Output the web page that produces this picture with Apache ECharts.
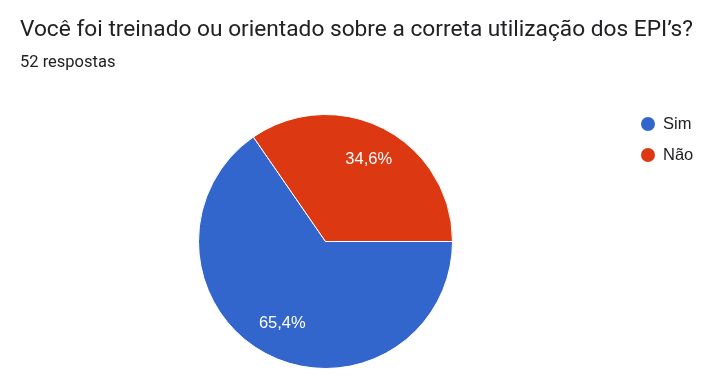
<!DOCTYPE html>
<html><head><meta charset="utf-8">
<script src="https://cdn.jsdelivr.net/npm/echarts@6/dist/echarts.min.js"></script>
<style>html,body{margin:0;padding:0;background:#fff}#c{width:707px;height:383px}</style>
</head><body><div id="c"></div>
<script>
const categories = ['Sim', 'Não'];
const values = [34, 18];
const colors = ['#3366cc', '#dc3912'];
const titleText = 'Você foi treinado ou orientado sobre a correta utilização dos EPI’s?';
const subtitleText = '52 respostas';

const data = categories.map((c, i) => ({ name: c, value: values[i], itemStyle: { color: colors[i] } }));
const total = values.reduce((a, b) => a + b, 0);
const chart = echarts.init(document.getElementById('c'));
chart.setOption({
  animation: false,
  title: {
    text: titleText, subtext: subtitleText, left: 15, top: 14, itemGap: 12,
    textStyle: { fontFamily: 'Roboto', fontSize: 22.7, fontWeight: 'normal', color: '#202124' },
    subtextStyle: { fontFamily: 'Roboto', fontSize: 16.5, color: '#202124' }
  },
  legend: {
    orient: 'vertical', left: 639, top: 115, itemGap: 13, icon: 'circle',
    itemWidth: 16, itemHeight: 16, data: categories, padding: 0,
    textStyle: { fontFamily: 'Liberation Sans, Arial', fontSize: 16.5, color: '#222', padding: [0, 0, 0, 2] }
  },
  series: [{
    type: 'pie', center: [325.5, 241.5], radius: [0, 127], startAngle: 0, clockwise: true,
    data: data, label: { show: false }, labelLine: { show: false },
    itemStyle: { borderColor: '#fff', borderWidth: 1 }, silent: true
  }, {
    type: 'pie', center: [325.5, 241.5], radius: [53, 127], startAngle: 0, clockwise: true,
    data: categories.map((c, i) => ({ name: c, value: values[i] })),
    itemStyle: { color: 'rgba(0,0,0,0)' }, silent: true, legendHoverLink: false,
    label: {
      show: true, position: 'inside', color: '#fff', fontFamily: 'Liberation Sans, Arial', fontSize: 16.5,
      formatter: p => (p.value / total * 100).toFixed(1).replace('.', ',') + '%'
    },
    labelLine: { show: false }
  }]
});
</script></body></html>
